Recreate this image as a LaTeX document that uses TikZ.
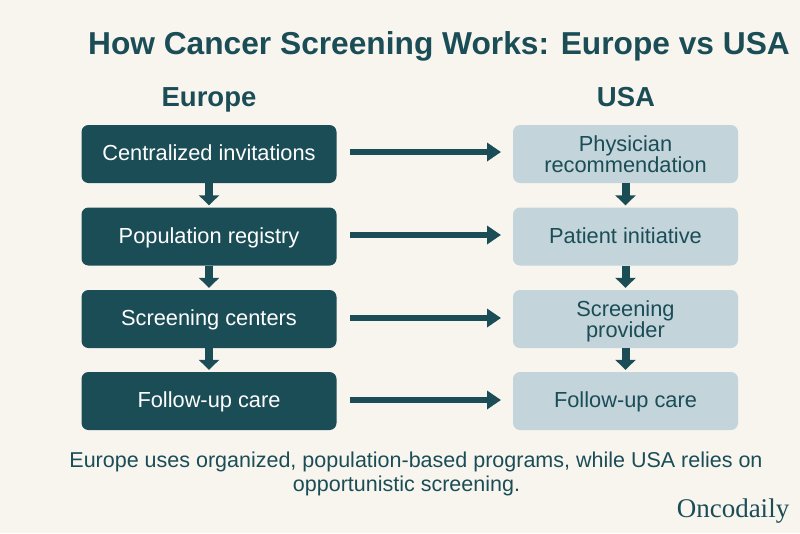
\documentclass[tikz,border=0pt]{standalone}
\usepackage{fontspec}
\setmainfont{Liberation Sans}
\newfontfamily\brandfont{Liberation Serif}
\definecolor{teal}{HTML}{1B4D57}
\definecolor{pale}{HTML}{C3D4DB}
\definecolor{paper}{HTML}{F8F5EF}
\usetikzlibrary{arrows.meta}
\newcommand{\twolines}[2]{\begin{tabular}{@{}c@{}}\rule{0pt}{22pt}#1\\#2\end{tabular}}
\tikzset{eubox/.style={draw=none, fill=teal, rounded corners=7pt, minimum width=255pt, minimum height=58pt, inner sep=0pt, text=white, font=\fontsize{21.8}{20}\selectfont, align=center, execute at begin node={\rule{0pt}{20pt}}, execute at end node={\rule[-7pt]{0pt}{7pt}}}}
\tikzset{usbox/.style={eubox, fill=pale, text=teal, minimum width=225pt}}
\tikzset{across/.style={-{Triangle[length=14pt,width=18pt]}, line width=5.5pt, teal}}
\tikzset{down/.style={-{Triangle[length=10pt,width=20pt]}, line width=8pt, teal, shorten >=2pt}}
\tikzset{head/.style={text=teal, anchor=base, font=\fontsize{27.5}{30}\selectfont\bfseries}}

\begin{document}
\begin{tikzpicture}[x=1pt,y=-1pt]
	\fill[paper] (0, 0) rectangle (800, 533);
	\useasboundingbox (0, 0) rectangle (800, 533);
	\node[text=teal, font=\fontsize{31.7}{36}\selectfont\bfseries] (title) at (439, 46) {How Cancer Screening Works: Europe vs USA};
	\node[head] (europe) at (209, 106) {Europe};
	\node[head] (usa) at (626, 106) {USA};
	\node[eubox] (inv) at (209, 154) {Centralized invitations};
	\node[eubox] (reg) at (209, 236.5) {Population registry};
	\node[eubox] (cen) at (209, 319) {Screening centers};
	\node[eubox] (fol) at (209, 401) {Follow-up care};
	\node[usbox] (phy) at (625.5, 154) {\twolines{Physician}{recommendation}};
	\node[usbox] (pat) at (625.5, 236.5) {Patient initiative};
	\node[usbox] (pro) at (625.5, 319) {\twolines{Screening}{provider}};
	\node[usbox] (ufo) at (625.5, 401) {Follow-up care};
	\coordinate (a1) at (350, 152);
	\coordinate (b1) at (501, 152);
	\coordinate (a2) at (350, 235);
	\coordinate (b2) at (501, 235);
	\coordinate (a3) at (350, 318);
	\coordinate (b3) at (501, 318);
	\coordinate (a4) at (350, 400);
	\coordinate (b4) at (501, 400);
	\foreach \i in {1,...,4} { \draw[across] (a\i) -- (b\i); }
	\draw[down] (inv) -- (reg);
	\draw[down] (reg) -- (cen);
	\draw[down] (cen) -- (fol);
	\draw[down] (phy) -- (pat);
	\draw[down] (pat) -- (pro);
	\draw[down] (pro) -- (ufo);
	\node[text=teal, font=\fontsize{21.5}{24}\selectfont, align=center] (note) at (416, 474) {Europe uses organized, population-based programs, while USA relies on\\opportunistic screening.\hspace*{19pt}};
	\node[text=teal, font=\fontsize{27}{30}\selectfont\brandfont] (brand) at (733, 511) {Oncodaily};
\end{tikzpicture}
\end{document}
